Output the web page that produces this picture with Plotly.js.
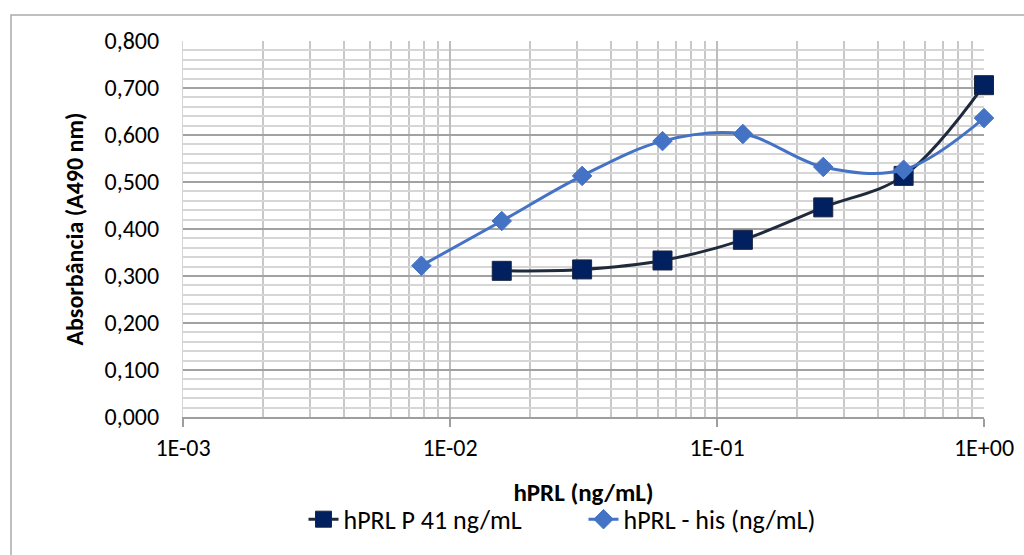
<!DOCTYPE html>
<html>
<head>
<meta charset="utf-8">
<script src="https://cdn.plot.ly/plotly-3.0.1.min.js"></script>
<style>
  html, body { margin: 0; padding: 0; background: #ffffff; }
  #chart { width: 1024px; height: 555px; }
</style>
</head>
<body>
<div id="chart"></div>
<script>
// Data
const concA = [0.015625, 0.03125, 0.0625, 0.125, 0.25, 0.5, 1];
const absA  = [0.311, 0.314, 0.333, 0.377, 0.446, 0.513, 0.706];
const concB = [0.0078125, 0.015625, 0.03125, 0.0625, 0.125, 0.25, 0.5, 1];
const absB  = [0.322, 0.417, 0.513, 0.587, 0.602, 0.532, 0.526, 0.636];
const nameA = 'hPRL P 41 ng/mL';
const nameB = 'hPRL - his (ng/mL)';
const xTickVals = [0.001, 0.01, 0.1, 1];
const xTickText = ['1E-03', '1E-02', '1E-01', '1E+00'];
const xTitle = 'hPRL (ng/mL)';
const yTitle = 'Absorbância (A490 nm)';

const FONT = 'Calibri, Carlito, Lato, "Open Sans", sans-serif';
const FS = 24;

const traces = [
  {
    x: concA, y: absA, name: nameA, type: 'scatter', mode: 'lines+markers', cliponaxis: false,
    line: { color: '#1f2a3d', width: 3, shape: 'spline', smoothing: 1 },
    marker: { symbol: 'square', size: 19, color: '#002060', line: { color: '#1a2540', width: 1 } }
  },
  {
    x: concB, y: absB, name: nameB, type: 'scatter', mode: 'lines+markers', cliponaxis: false,
    line: { color: '#4472c4', width: 3, shape: 'spline', smoothing: 1 },
    marker: { symbol: 'diamond', size: 15, color: '#4472c4', line: { color: '#4472c4', width: 1 } }
  }
];

const layout = {
  width: 1024, height: 555,
  margin: { l: 183, r: 40, t: 41, b: 138 },
  paper_bgcolor: '#ffffff', plot_bgcolor: '#ffffff',
  separators: ',.',
  font: { family: FONT, size: FS, color: '#000000' },
  showlegend: true,
  legend: {
    orientation: 'h', x: 0.5, xanchor: 'center', y: -0.272, yanchor: 'middle',
    font: { family: FONT, size: 26, color: '#000000' }, entrywidth: 235, entrywidthmode: 'pixels',
    bgcolor: 'rgba(0,0,0,0)'
  },
  xaxis: {
    type: 'log', range: [-3, 0],
    tickvals: xTickVals, ticktext: xTickText,
    ticks: 'outside', ticklen: 8, tickwidth: 2, tickcolor: '#9e9e9e',
    showline: true, linecolor: '#9e9e9e', linewidth: 2,
    showgrid: true, gridcolor: '#bdbdbd', gridwidth: 2,
    minor: { dtick: 'D1', showgrid: true, gridcolor: '#c8c8c8', gridwidth: 2, ticks: '' },
    zeroline: false,
    tickfont: { family: FONT, size: FS, color: '#000000' },
    title: { text: '<b>' + xTitle + '</b>', font: { family: FONT, size: 25, color: '#000000' }, standoff: 23 },
    fixedrange: true
  },
  yaxis: {
    range: [0, 0.8], dtick: 0.1, tickformat: '.3f',
    ticks: '', showline: true, linecolor: '#d4d4d4', linewidth: 1,
    showgrid: true, gridcolor: '#a2a2a2', gridwidth: 2,
    minor: { dtick: 0.02, showgrid: true, gridcolor: '#d6d6d6', gridwidth: 2 },
    zeroline: false,
    tickfont: { family: FONT, size: FS, color: '#000000' },
    ticklabelstandoff: 18,
    title: { text: '<b>' + yTitle + '</b>', font: { family: FONT, size: FS, color: '#000000' }, standoff: 14 },
    fixedrange: true
  },
  shapes: [
    {
      type: 'rect', xref: 'paper', yref: 'paper',
      x0: (11 - 183) / 801, x1: (1040 - 183) / 801,
      y0: (417 - 570) / 376, y1: (417 - 15) / 376,
      line: { color: '#aaaaaa', width: 1.5 }, fillcolor: 'rgba(0,0,0,0)', layer: 'below'
    }
  ]
};

Plotly.newPlot('chart', traces, layout, { displayModeBar: false, staticPlot: true });
</script>
</body>
</html>
